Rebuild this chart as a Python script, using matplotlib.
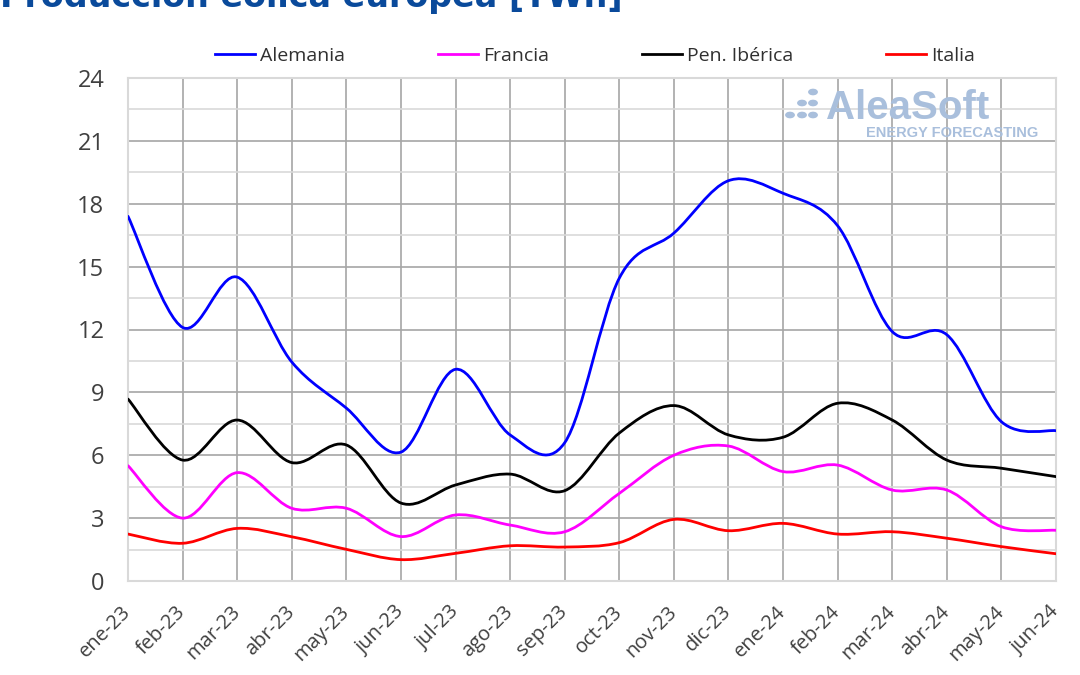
import numpy as np
import matplotlib
matplotlib.use("Agg")
import matplotlib.pyplot as plt
from matplotlib.path import Path
from matplotlib.patches import PathPatch, Circle
from matplotlib.lines import Line2D

months = ["ene-23", "feb-23", "mar-23", "abr-23", "may-23", "jun-23", "jul-23",
          "ago-23", "sep-23", "oct-23", "nov-23", "dic-23", "ene-24", "feb-24",
          "mar-24", "abr-24", "may-24", "jun-24"]

alemania = [17.4, 12.1, 14.5, 10.45, 8.25, 6.15, 10.1, 6.97, 6.6, 14.45, 16.6,
            19.1, 18.5, 16.95, 11.9, 11.75, 7.6, 7.17]
francia = [5.5, 3.0, 5.17, 3.47, 3.47, 2.12, 3.15, 2.67, 2.35, 4.18, 6.0,
           6.44, 5.22, 5.53, 4.34, 4.34, 2.59, 2.42]
iberica = [8.68, 5.77, 7.68, 5.65, 6.49, 3.72, 4.58, 5.1, 4.31, 7.06, 8.37,
           6.97, 6.86, 8.48, 7.68, 5.77, 5.38, 4.98]
italia = [2.24, 1.8, 2.51, 2.11, 1.51, 1.02, 1.32, 1.68, 1.62, 1.83, 2.94,
          2.4, 2.75, 2.24, 2.35, 2.04, 1.64, 1.3]

series = [("Alemania", alemania, "#0000ff"),
          ("Francia", francia, "#ff00ff"),
          ("Pen. Ibérica", iberica, "#000000"),
          ("Italia", italia, "#ff0000")]

yticks = [0, 3, 6, 9, 12, 15, 18, 21, 24]

W, H = 1080, 675


def smooth_path(xs, ys):
    pts = np.column_stack([xs, ys]).astype(float)
    n = len(pts)
    verts = [pts[0]]
    codes = [Path.MOVETO]
    for i in range(n - 1):
        p0 = pts[i - 1] if i > 0 else pts[i]
        p1 = pts[i]
        p2 = pts[i + 1]
        p3 = pts[i + 2] if i + 2 < n else pts[i + 1]
        c1 = p1 + (p2 - p0) / 6.0
        c2 = p2 - (p3 - p1) / 6.0
        verts += [c1, c2, p2]
        codes += [Path.CURVE4] * 3
    return Path(verts, codes)


fig = plt.figure(figsize=(W / 100, H / 100), dpi=100)
ax = fig.add_axes([128 / W, 1 - 581 / H, (1056 - 128) / W, (581 - 78) / H])

x = np.arange(len(months))
ax.set_xlim(0, len(months) - 1)
ax.set_ylim(0, 24)

# grid
ax.set_yticks(yticks)
ax.set_yticks(np.arange(1.5, 24, 3), minor=True)
ax.set_xticks(x)
ax.grid(which="major", axis="y", color="#a6a6a6", lw=1.2)
ax.grid(which="minor", axis="y", color="#d9d9d9", lw=1.2)
ax.grid(which="major", axis="x", color="#a6a6a6", lw=1.2)
ax.set_axisbelow(True)
ax.tick_params(axis="both", which="both", length=0)
for s in ax.spines.values():
    s.set_color("#d9d9d9")
    s.set_linewidth(1.5)

ax.set_yticklabels([str(t) for t in yticks], fontsize=17, color="#404040",
                   family="Open Sans")
ax.tick_params(axis="y", pad=17)
ax.set_xticklabels(months, rotation=45, ha="right", va="center",
                   rotation_mode="anchor", fontsize=14.5, color="#404040",
                   family="Open Sans")
ax.tick_params(axis="x", pad=20)

handles = []
for name, vals, col in series:
    p = PathPatch(smooth_path(x, vals), fill=False, edgecolor=col, lw=2.0,
                  capstyle="round", joinstyle="round", zorder=3)
    ax.add_patch(p)
    handles.append(Line2D([], [], color=col, lw=2.0, label=name))

leg = fig.legend(handles=handles, loc="center left",
                 bbox_to_anchor=(215 / W, 1 - 56 / H), borderaxespad=0,
                 borderpad=0, ncol=4, frameon=False, handlelength=2.05,
                 handletextpad=0.25, columnspacing=4.8,
                 prop={"family": "Open Sans", "size": 14})
for t in leg.get_texts():
    t.set_color("#303030")

# watermark logo
wm = "#a9bfdc"
for px, py in [(790, 115), (802, 115), (813, 115), (802, 103), (813, 103), (813, 92)]:
    fig.patches.append(Circle((px / W, 1 - py / H), radius=4.2 / W,
                              transform=fig.transFigure, color=wm, zorder=2))
fig.text(826 / W, 1 - 108 / H, "AleaSoft", fontsize=29, fontweight="bold",
         color=wm, family="Liberation Sans", ha="left", va="center")
fig.text(1038 / W, 1 - 133 / H, "ENERGY FORECASTING", fontsize=10.5,
         fontweight="bold", color=wm, family="Liberation Sans", ha="right",
         va="center")

# title (partially cut at the top, as in the reference)
fig.text(0.0, 1 - 7 / H, "Producción eólica europea [TWh]", fontsize=24,
         fontweight="bold", color="#0a4a9b", ha="left", va="baseline",
         family="DejaVu Sans")

fig.savefig("out.png", dpi=100)
